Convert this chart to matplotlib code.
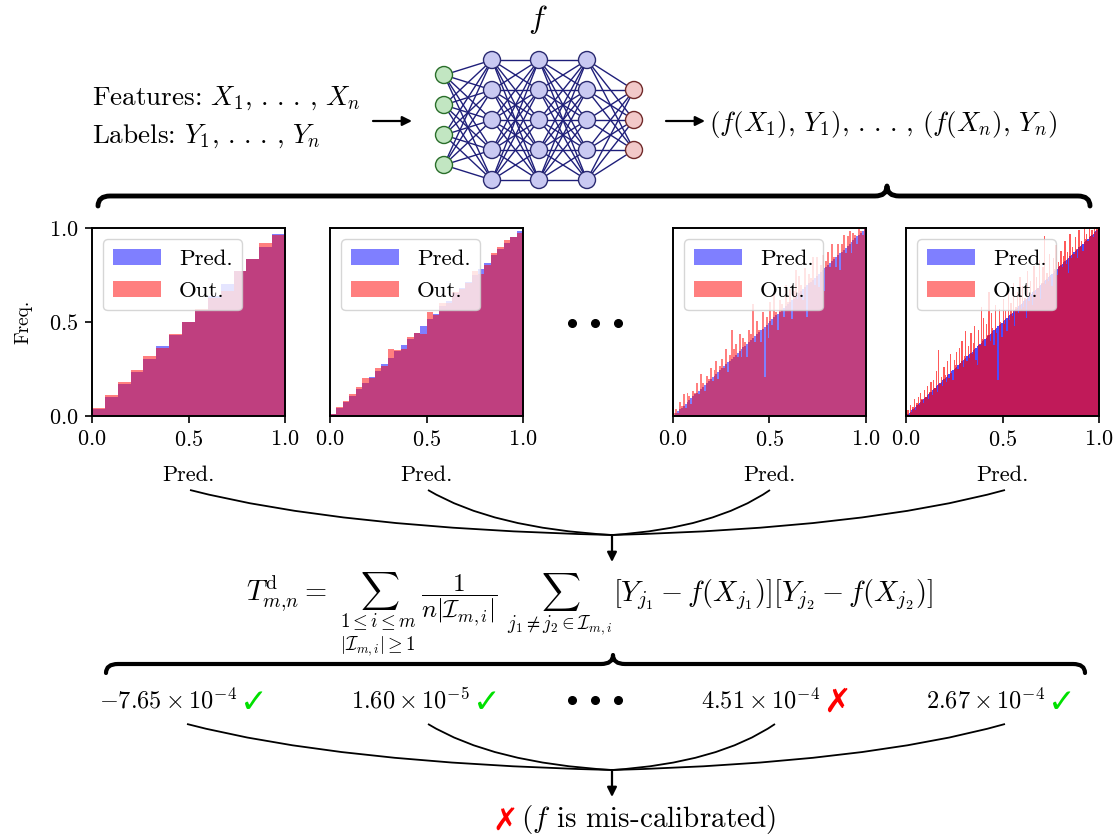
import numpy as np
import matplotlib
matplotlib.use('Agg')
import matplotlib.pyplot as plt
from matplotlib.patches import Circle, PathPatch
from matplotlib.path import Path

plt.rcParams['font.family'] = 'serif'
plt.rcParams['font.serif'] = ['cmr10']
plt.rcParams['mathtext.fontset'] = 'cm'
plt.rcParams['axes.formatter.use_mathtext'] = True

# reliability histograms: mean prediction / mean outcome per bin
pred1 = [0.035, 0.10, 0.17, 0.235, 0.305, 0.37, 0.43, 0.50, 0.565, 0.637,
         0.70, 0.77, 0.835, 0.90, 0.97]
out1 = [0.04, 0.11, 0.18, 0.245, 0.32, 0.36, 0.437, 0.50, 0.57, 0.63,
        0.667, 0.77, 0.835, 0.92, 0.965]

pred2 = [0.012, 0.043, 0.073, 0.107, 0.145, 0.175, 0.207, 0.241, 0.275, 0.31,
         0.345, 0.379, 0.41, 0.443, 0.48, 0.514, 0.54, 0.585, 0.61, 0.652,
         0.68, 0.714, 0.75, 0.78, 0.812, 0.854, 0.886, 0.92, 0.95, 0.982]
out2 = [0.012, 0.048, 0.082, 0.116, 0.154, 0.20, 0.204, 0.255, 0.266, 0.357,
        0.352, 0.354, 0.42, 0.443, 0.437, 0.554, 0.535, 0.60, 0.60, 0.657,
        0.675, 0.71, 0.773, 0.755, 0.804, 0.866, 0.90, 0.936, 0.95, 0.971]

pred3 = [0.005, 0.015, 0.025, 0.035, 0.045, 0.055, 0.065, 0.075, 0.085, 0.095,
         0.105, 0.115, 0.125, 0.135, 0.145, 0.155, 0.165, 0.175, 0.185, 0.195,
         0.205, 0.215, 0.225, 0.235, 0.245, 0.255, 0.265, 0.275, 0.285, 0.295,
         0.305, 0.315, 0.325, 0.335, 0.345, 0.355, 0.365, 0.375, 0.385, 0.395,
         0.405, 0.415, 0.425, 0.435, 0.445, 0.455, 0.465, 0.475, 0.485, 0.495,
         0.505, 0.515, 0.525, 0.535, 0.545, 0.555, 0.565, 0.575, 0.585, 0.595,
         0.605, 0.615, 0.625, 0.635, 0.645, 0.655, 0.665, 0.675, 0.685, 0.695,
         0.705, 0.715, 0.725, 0.735, 0.745, 0.755, 0.765, 0.775, 0.785, 0.795,
         0.805, 0.815, 0.825, 0.835, 0.845, 0.855, 0.865, 0.875, 0.885, 0.895,
         0.905, 0.915, 0.925, 0.935, 0.945, 0.955, 0.965, 0.975, 0.985, 0.995]
out3 = [0.015, 0.035, 0.015, 0.075, 0.055, 0.115, 0.045, 0.125, 0.105, 0.065,
        0.135, 0.125, 0.175, 0.115, 0.225, 0.175, 0.135, 0.215, 0.195, 0.255,
        0.185, 0.245, 0.295, 0.195, 0.265, 0.305, 0.255, 0.355, 0.235, 0.325,
        0.455, 0.355, 0.385, 0.315, 0.435, 0.315, 0.415, 0.395, 0.315, 0.455,
        0.435, 0.595, 0.395, 0.505, 0.455, 0.395, 0.555, 0.205, 0.525, 0.415,
        0.605, 0.485, 0.655, 0.555, 0.455, 0.615, 0.595, 0.525, 0.695, 0.605,
        0.675, 0.515, 0.665, 0.775, 0.625, 0.745, 0.695, 0.615, 0.785, 0.525,
        0.755, 0.735, 0.845, 0.695, 0.845, 0.685, 0.805, 0.855, 0.665, 0.825,
        0.875, 0.795, 0.915, 0.845, 0.795, 0.915, 0.775, 0.915, 0.965, 0.865,
        0.955, 0.985, 0.865, 0.975, 0.965, 0.915, 0.995, 0.985, 0.965, 0.995]

pred4 = [0.003, 0.010, 0.017, 0.023, 0.030, 0.037, 0.043, 0.050, 0.057, 0.063,
         0.070, 0.077, 0.083, 0.090, 0.097, 0.103, 0.110, 0.117, 0.123, 0.130,
         0.137, 0.143, 0.150, 0.157, 0.163, 0.170, 0.177, 0.183, 0.190, 0.197,
         0.203, 0.210, 0.217, 0.223, 0.230, 0.237, 0.243, 0.250, 0.257, 0.263,
         0.270, 0.277, 0.283, 0.290, 0.297, 0.303, 0.310, 0.317, 0.323, 0.330,
         0.337, 0.343, 0.350, 0.357, 0.363, 0.370, 0.377, 0.383, 0.390, 0.397,
         0.403, 0.410, 0.417, 0.423, 0.430, 0.437, 0.443, 0.450, 0.457, 0.463,
         0.470, 0.477, 0.483, 0.490, 0.497, 0.503, 0.510, 0.517, 0.523, 0.530,
         0.537, 0.543, 0.550, 0.557, 0.563, 0.570, 0.577, 0.583, 0.590, 0.597,
         0.603, 0.610, 0.617, 0.623, 0.630, 0.637, 0.643, 0.650, 0.657, 0.663,
         0.670, 0.677, 0.683, 0.690, 0.697, 0.703, 0.710, 0.717, 0.723, 0.730,
         0.737, 0.743, 0.750, 0.757, 0.763, 0.770, 0.777, 0.783, 0.790, 0.797,
         0.803, 0.810, 0.817, 0.823, 0.830, 0.837, 0.843, 0.850, 0.857, 0.863,
         0.870, 0.877, 0.883, 0.890, 0.897, 0.903, 0.910, 0.917, 0.923, 0.930,
         0.937, 0.943, 0.950, 0.957, 0.963, 0.970, 0.977, 0.983, 0.990, 0.997]
out4 = [0.01, 0.03, 0.00, 0.06, 0.02, 0.05, 0.09, 0.03, 0.07, 0.10,
        0.06, 0.12, 0.09, 0.07, 0.14, 0.10, 0.16, 0.09, 0.13, 0.18,
        0.11, 0.19, 0.15, 0.24, 0.13, 0.35, 0.17, 0.21, 0.16, 0.26,
        0.22, 0.18, 0.29, 0.20, 0.33, 0.23, 0.19, 0.30, 0.27, 0.34,
        0.25, 0.36, 0.28, 0.40, 0.26, 0.32, 0.45, 0.29, 0.37, 0.31,
        0.44, 0.33, 0.39, 0.48, 0.30, 0.27, 0.46, 0.38, 0.58, 0.41,
        0.52, 0.37, 0.49, 0.43, 0.66, 0.40, 0.55, 0.47, 0.38, 0.59,
        0.44, 0.19, 0.57, 0.50, 0.42, 0.62, 0.49, 0.56, 0.45, 0.68,
        0.51, 0.60, 0.53, 0.71, 0.48, 0.58, 0.66, 0.55, 0.74, 0.57,
        0.69, 0.58, 0.63, 0.52, 0.77, 0.61, 0.72, 0.64, 0.59, 0.80,
        0.65, 0.74, 0.68, 0.83, 0.62, 0.71, 0.79, 0.96, 0.70, 0.76,
        0.72, 0.86, 0.74, 0.69, 0.84, 0.78, 0.91, 0.75, 0.82, 0.80,
        0.88, 0.79, 0.85, 0.93, 0.81, 0.87, 0.76, 0.97, 0.84, 0.90,
        0.86, 0.95, 0.89, 0.84, 0.99, 0.90, 0.93, 0.88, 1.00, 0.94,
        0.97, 0.93, 1.00, 0.96, 0.99, 0.95, 1.00, 0.98, 1.00, 0.99]

# test statistic per binning and whether it passed
stat_values = [-7.65e-4, 1.60e-5, 4.51e-4, 2.67e-4]
stat_passed = [True, True, False, True]

layer_sizes = [4, 5, 5, 5, 3]

W, H = 1116, 836
fig = plt.figure(figsize=(W / 100, H / 100), dpi=100)

# overlay axes in pixel coords (y down) for the diagram parts
ov = fig.add_axes([0, 0, 1, 1])
ov.set_xlim(0, W)
ov.set_ylim(H, 0)
ov.axis('off')

FS = 19.5
DOTS = r'.\,.\,.'

# --- top row: data -> network -> pairs
ov.text(92, 98, r'Features: $X_1,\,%s\,,\,X_n$' % DOTS, fontsize=FS, va='center', ha='left')
ov.text(92, 136, r'Labels: $Y_1,\,%s\,,\,Y_n$' % DOTS, fontsize=FS, va='center', ha='left')
ov.text(709, 124, r'$(f(X_1),\,Y_1),\,%s\,,\,(f(X_n),\,Y_n)$' % DOTS, fontsize=FS,
        va='center', ha='left')
ov.text(538, 20, r'$f$', fontsize=23, va='center', ha='center')

def arrow(x0, y0, x1, y1):
    ov.annotate('', xy=(x1, y1), xytext=(x0, y0),
                arrowprops=dict(arrowstyle='-|>', color='k', lw=1.6,
                                mutation_scale=14, shrinkA=0, shrinkB=0))

arrow(373, 121, 412, 121)
arrow(666, 121, 705, 121)

# network
layer_x = [444, 492, 539, 587, 634]
node_pos = []
for lx, n in zip(layer_x, layer_sizes):
    node_pos.append([(lx, 120 + (k - (n - 1) / 2) * 30) for k in range(n)])
for a, b in zip(node_pos[:-1], node_pos[1:]):
    for p in a:
        for q in b:
            ov.plot([p[0], q[0]], [p[1], q[1]], color='#1f1f7a', lw=1.0, zorder=1)
fills = ['#c2e6c2'] + ['#c9c9f2'] * 3 + ['#f2c9c9']
edges = ['#2a6e2a'] + ['#2a2a70'] * 3 + ['#702a2a']
for i, layer in enumerate(node_pos):
    for p in layer:
        ov.add_patch(Circle(p, 8.5, facecolor=fills[i], edgecolor=edges[i], lw=1.0, zorder=3))

def brace(x0, x1, xt, y, h, lw):
    r = 12
    verts = [(x0, y + h), (x0, y), (x0 + r, y),
             (xt - r, y), (xt, y), (xt, y - h),
             (xt, y), (xt + r, y),
             (x1 - r, y), (x1, y), (x1, y + h)]
    codes = [Path.MOVETO, Path.CURVE3, Path.CURVE3,
             Path.LINETO, Path.CURVE3, Path.CURVE3,
             Path.CURVE3, Path.CURVE3,
             Path.LINETO, Path.CURVE3, Path.CURVE3]
    ov.add_patch(PathPatch(Path(verts, codes), fill=False, lw=lw, color='k',
                           capstyle='round', joinstyle='round'))

brace(98, 1090, 887, 196, 10, 3.5)

# --- histograms
panel_x = [92, 330, 673, 906]
panel_w, panel_top, panel_h = 193, 228, 188
hists = [(pred1, out1), (pred2, out2), (pred3, out3), (pred4, out4)]
for i, (px, (pr, ou)) in enumerate(zip(panel_x, hists)):
    ax = fig.add_axes([px / W, (H - panel_top - panel_h) / H, panel_w / W, panel_h / H])
    n = len(pr)
    bin_edges = np.linspace(0, 1, n + 1)
    if i < 2:
        ax.bar(bin_edges[:-1], pr, width=1 / n, align='edge', color='blue',
               alpha=0.5, linewidth=0)
        ax.bar(bin_edges[:-1], ou, width=1 / n, align='edge', color='red',
               alpha=0.5, linewidth=0)
    else:
        # many thin bins: one filled outline each, avoids white seams
        dense = i == 3
        ax.stairs(pr, bin_edges, fill=True, color='blue', alpha=0.7 if dense else 0.5,
                  linewidth=0)
        ax.stairs(ou, bin_edges, fill=True, color='red', alpha=0.65 if dense else 0.5,
                  linewidth=0)
    ax.set_xlim(0, 1)
    ax.set_ylim(0, 1)
    ax.set_xticks([0, 0.5, 1.0])
    ax.tick_params(labelsize=16, length=5, width=1.2, pad=5)
    ax.set_xlabel('Pred.', fontsize=16, labelpad=11)
    if i == 0:
        ax.set_yticks([0, 0.5, 1.0])
        ax.set_ylabel('Freq.', fontsize=14, labelpad=12)
    else:
        ax.set_yticks([])
    for s in ax.spines.values():
        s.set_linewidth(1.4)
    hp = ax.bar([0], [0], color='blue', alpha=0.5, label='Pred.')
    ho = ax.bar([0], [0], color='red', alpha=0.5, label='Out.')
    ax.legend(handles=[hp, ho], loc='upper left', fontsize=16.5,
              handlelength=2.1, labelspacing=0.55)

for dx in (572, 595, 618):
    ov.plot(dx, 323, 'o', color='k', ms=5.5)

# --- curves down to the statistic
def curve(p0, p1, a=0.35, b=0.85, lw=1.3):
    c = (p0[0] + a * (p1[0] - p0[0]), p0[1] + b * (p1[1] - p0[1]))
    ov.add_patch(PathPatch(Path([p0, c, p1], [Path.MOVETO, Path.CURVE3, Path.CURVE3]),
                           fill=False, lw=lw, color='k'))

meet1 = (612, 535)
for sx in (190, 428, 770, 1005):
    curve((sx, 490), meet1)
arrow(612, 535, 612, 562)

# formula
yb = 601
FF = 20.5
ov.text(246, yb, r'$T^{\mathrm{d}}_{m{,}n} =$', fontsize=FF, ha='left', va='baseline')
ov.text(378, yb, r'$\sum_{1\leq i\leq m}$', fontsize=19.5, ha='center', va='baseline')
ov.text(378, 650, r'$|\mathcal{I}_{m,i}|\geq 1$', fontsize=13.5, ha='center', va='baseline')
ov.text(459, yb, r'$\dfrac{1}{n|\mathcal{I}_{m,i}|}$', fontsize=18, ha='center', va='baseline')
ov.text(560, yb, r'$\sum_{j_1\neq j_2\in\mathcal{I}_{m,i}}$', fontsize=19.5, ha='center',
        va='baseline')
ov.text(613, yb, r'$[Y_{j_1}-f(X_{j_1})][Y_{j_2}-f(X_{j_2})]$', fontsize=FF,
        ha='left', va='baseline')

brace(106, 1085, 613, 664, 9, 3.0)

# --- statistic values row
val_right = [237, 470, 820, 1045]
yv = 708
for xr, v, ok in zip(val_right, stat_values, stat_passed):
    mant, ex = ('%.2e' % v).split('e')
    ov.text(xr, yv, r'$%s\times10^{%d}$' % (mant, int(ex)), fontsize=17.5,
            ha='right', va='baseline')
    ov.text(xr + 3, yv + 4, '\u2713' if ok else '\u2717', fontsize=24,
            family='DejaVu Sans', fontweight='bold',
            color='#00e000' if ok else 'red', ha='left', va='baseline')
for dx in (572, 595, 618):
    ov.plot(dx, 700, 'o', color='k', ms=5.5)

meet2 = (612, 770)
for sx in (187, 428, 775, 1005):
    curve((sx, 724), meet2)
arrow(612, 770, 612, 797)

ov.text(492, 830, '\u2717', fontsize=22, family='DejaVu Sans', fontweight='bold',
        color='red', ha='left', va='baseline')
ov.text(521, 827, r'($f$ is mis-calibrated)', fontsize=21, ha='left', va='baseline')

fig.savefig('out.png', dpi=100)
